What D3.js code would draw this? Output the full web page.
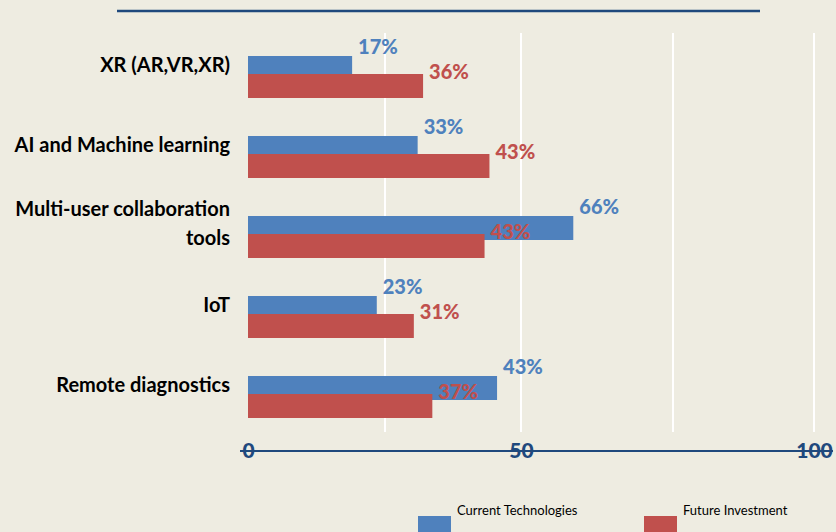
<!DOCTYPE html>
<html>
<head>
<meta charset="utf-8">
<script src="https://cdn.jsdelivr.net/npm/d3@7"></script>
<style>
  body { margin: 0; background: #EEECE1; }
  svg { display: block; }
</style>
</head>
<body>
<div id="chart"></div>
<script>
// data
const categories = ["XR (AR,VR,XR)", "AI and Machine learning", "Multi-user collaboration\ntools", "IoT", "Remote diagnostics"]
const currentValues = [19, 31, 58.6, 23.5, 45.6]
const futureValues = [32, 44.2, 43.3, 30.3, 33.7]
const currentLabels = ["17%", "33%", "66%", "23%", "43%"]
const futureLabels = ["36%", "43%", "43%", "31%", "37%"]
const tickLabels = [0, 50, 100]
const gridValues = [25, 50, 75, 100]
const seriesNames = ["Current Technologies", "Future Investment"]

const width = 836, height = 532
const colors = {
    bg: '#EEECE1',
    current: '#4F81BD',
    future: '#C0504D',
    axis: '#1F497D',
    grid: '#FFFFFF',
    text: '#000000'
}
const font = 'Lato, "Open Sans", sans-serif'

const svg = d3.select('#chart').append('svg')
    .attr('width', width)
    .attr('height', height)

svg.append('rect')
    .attr('width', width)
    .attr('height', height)
    .attr('fill', colors.bg)

// the source picture is stretched unevenly, so the scale is piecewise
const x = d3.scaleLinear()
    .domain([0, 25, 50, 75, 100])
    .range([248, 385, 521, 673, 814])

const y = d3.scaleBand()
    .domain(categories)
    .range([35, 435])

const barH = 24, redOffset = 18, blueTop = 21

// top rule
svg.append('line')
    .attr('x1', 117).attr('x2', 760)
    .attr('y1', 11).attr('y2', 11)
    .attr('stroke', colors.axis)
    .attr('stroke-width', 2.5)

// gridlines
svg.append('g').selectAll('line')
    .data(gridValues)
    .join('line')
    .attr('x1', d => x(d)).attr('x2', d => x(d))
    .attr('y1', 33).attr('y2', 432)
    .attr('stroke', colors.grid)
    .attr('stroke-width', 2)

const groups = svg.append('g').selectAll('g')
    .data(categories)
    .join('g')
    .attr('transform', d => 'translate(0,' + (y(d) + blueTop) + ')')

groups.append('rect')
    .attr('x', x(0))
    .attr('y', 0)
    .attr('width', (d, i) => x(currentValues[i]) - x(0))
    .attr('height', barH)
    .attr('fill', colors.current)

groups.append('rect')
    .attr('x', x(0))
    .attr('y', redOffset)
    .attr('width', (d, i) => x(futureValues[i]) - x(0))
    .attr('height', barH)
    .attr('fill', colors.future)

groups.append('text')
    .attr('x', (d, i) => x(currentValues[i]) + 6)
    .attr('y', -2)
    .attr('fill', colors.current)
    .attr('font-family', font)
    .attr('font-weight', 900)
    .attr('font-size', 20)
    .text((d, i) => currentLabels[i])

groups.append('text')
    .attr('x', (d, i) => x(futureValues[i]) + 6)
    .attr('y', redOffset + 5)
    .attr('fill', colors.future)
    .attr('font-family', font)
    .attr('font-weight', 900)
    .attr('font-size', 20)
    .text((d, i) => futureLabels[i])

// category labels
groups.append('text')
    .attr('text-anchor', 'end')
    .attr('font-family', font)
    .attr('font-weight', 'bold')
    .attr('font-size', 20)
    .attr('fill', colors.text)
    .each(function(d) {
        const lines = d.split('\n')
        const t = d3.select(this)
        lines.forEach((line, k) => {
            t.append('tspan')
                .attr('x', 230)
                .attr('y', lines.length > 1 ? k * 29 : 15.5)
                .text(line)
        })
    })

// x axis
svg.append('line')
    .attr('x1', 240).attr('x2', 833)
    .attr('y1', 451).attr('y2', 451)
    .attr('stroke', colors.axis)
    .attr('stroke-width', 2)

const xAxis = svg.append('g')
    .attr('transform', 'translate(0,451)')
    .call(d3.axisBottom(x).tickValues(tickLabels).tickSize(0).tickPadding(0))

xAxis.select('.domain').remove()
xAxis.selectAll('text')
    .attr('dy', '0.35em')
    .attr('y', 0)
    .attr('fill', colors.axis)
    .attr('font-family', font)
    .attr('font-weight', 900)
    .attr('font-size', 21)

// legend
const legendX = [418, 644]
const legend = svg.append('g').selectAll('g')
    .data(seriesNames)
    .join('g')
    .attr('transform', (d, i) => 'translate(' + legendX[i] + ',0)')

legend.append('rect')
    .attr('x', 0).attr('y', 516)
    .attr('width', 33).attr('height', 20)
    .attr('fill', (d, i) => i === 0 ? colors.current : colors.future)

legend.append('text')
    .attr('x', 39).attr('y', 515)
    .attr('font-family', font)
    .attr('font-size', 13)
    .attr('fill', colors.text)
    .text(d => d)
</script>
</body>
</html>
